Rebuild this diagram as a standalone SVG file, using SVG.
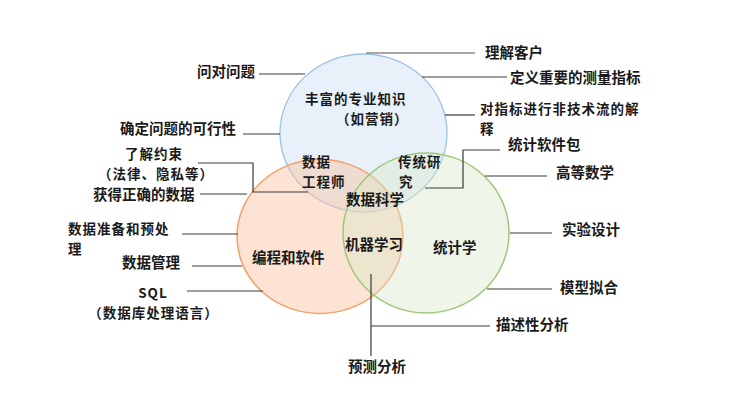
<svg xmlns="http://www.w3.org/2000/svg" width="750" height="412" viewBox="0 0 750 412">
<style>
text{font-family:"Noto Sans CJK SC","Liberation Serif",serif;font-size:14.5px;font-weight:bold;fill:#1a1a1a}
text.m{font-size:13.5px;letter-spacing:1px}
.c{stroke:#3a3a3a;stroke-width:1.2;fill:none}
.g{stroke:#8a8a8a;stroke-width:1.6;fill:none}
</style>
<rect width="750" height="412" fill="#ffffff"/>
<g id="circle-domain">
<ellipse cx="363.5" cy="133" rx="83.5" ry="79" fill="#d5e4f4" fill-opacity="0.55" stroke="#9cc2e5" stroke-width="1.3"/>
</g>
<g id="circle-programming">
<ellipse cx="320" cy="236.5" rx="83" ry="77" fill="#f9c4a2" fill-opacity="0.48" stroke="#f4a06a" stroke-width="1.5"/>
</g>
<g id="circle-statistics">
<ellipse cx="426" cy="233" rx="83" ry="80" fill="#d7e9c9" fill-opacity="0.4" stroke="#9cc87a" stroke-width="1.5"/>
</g>
<g id="connectors">
<path class="g" d="M366 53H475"/>
<path class="c" d="M422 77H507"/>
<path class="c" d="M445 115H475"/>
<path class="c" d="M259 74H305"/>
<path class="c" d="M243 134H280"/>
<path class="c" d="M425 188H463V150H500"/>
<path class="c" d="M485 176H547"/>
<path class="c" d="M510 233H552"/>
<path class="c" d="M487 289H552"/>
<path class="c" d="M371 274V356"/>
<path class="c" d="M371 326H490"/>
<path class="c" d="M198 163H253V192H308"/>
<path class="c" d="M200 194H247"/>
<path class="c" d="M182 234H238"/>
<path class="c" d="M192 266H242"/>
<path class="c" d="M187 291H263"/>
</g>
<g id="labels-domain">
<text class="m" x="305" y="104">丰富的专业知识<tspan x="336" y="124">（如营销）</tspan></text>
</g>
<g id="label-data-engineer">
<text class="m" x="302" y="167">数据<tspan x="302" y="187">工程师</tspan></text>
</g>
<g id="label-traditional-research">
<text class="m" x="398" y="167">传统研<tspan x="399" y="187">究</tspan></text>
</g>
<g id="label-data-science"><text x="346" y="205">数据科学</text></g>
<g id="label-ml"><text x="345" y="250">机器学习</text></g>
<g id="label-stat"><text x="433" y="253">统计学</text></g>
<g id="label-prog"><text x="252" y="263">编程和软件</text></g>
<g id="n-ask"><text x="197" y="77">问对问题</text></g>
<g id="n-feasible"><text x="120" y="134">确定问题的可行性</text></g>
<g id="n-customer"><text x="485" y="58">理解客户</text></g>
<g id="n-metrics"><text x="510" y="83">定义重要的测量指标</text></g>
<g id="n-explain">
<text class="m" x="480" y="114">对指标进行非技术流的解<tspan x="480" y="134">释</tspan></text>
</g>
<g id="n-stats-pkg"><text x="508" y="150">统计软件包</text></g>
<g id="n-math"><text x="556" y="178">高等数学</text></g>
<g id="n-exp"><text x="562" y="235">实验设计</text></g>
<g id="n-fit"><text x="560" y="293">模型拟合</text></g>
<g id="n-desc"><text x="496" y="330">描述性分析</text></g>
<g id="n-pred"><text x="348" y="372">预测分析</text></g>
<g id="n-constraints">
<text class="m" x="125" y="159">了解约束<tspan x="98" y="179">（法律、隐私等）</tspan></text>
</g>
<g id="n-getdata"><text x="93" y="200">获得正确的数据</text></g>
<g id="n-prep">
<text class="m" x="68" y="234">数据准备和预处<tspan x="68" y="254">理</tspan></text>
</g>
<g id="n-mgmt"><text x="122" y="268">数据管理</text></g>
<g id="n-sql">
<text class="m" x="153" y="298" text-anchor="middle">SQL<tspan x="153.5" y="318">（数据库处理语言）</tspan></text>
</g>
</svg>
